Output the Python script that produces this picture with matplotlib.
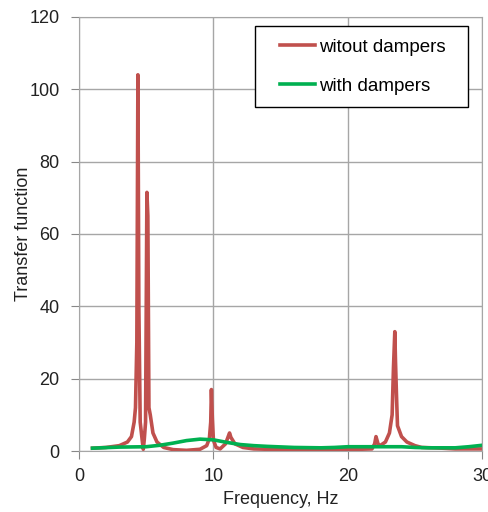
import numpy as np
import matplotlib.pyplot as plt
from matplotlib.lines import Line2D
from matplotlib.legend_handler import HandlerLine2D

plt.rcParams['font.family'] = ['Liberation Sans', 'DejaVu Sans']

# red curve: without dampers
freq_no = [1.0, 2.0, 3.0, 3.6, 3.9, 4.1, 4.2, 4.3, 4.38, 4.45, 4.55, 4.7, 4.78, 4.85,
           4.95, 5.05, 5.12, 5.2, 5.3, 5.5, 5.8, 6.3, 7.0, 8.0, 9.0, 9.5, 9.7, 9.8,
           9.85, 9.92, 10.0, 10.2, 10.5, 10.9, 11.1, 11.2, 11.3, 11.6, 12.2, 13.0,
           15.0, 18.0, 20.0, 21.8, 22.0, 22.1, 22.25, 22.4, 22.8, 23.1, 23.3, 23.4,
           23.5, 23.55, 23.62, 23.7, 24.0, 24.4, 25.0, 25.5, 27.0, 28.0, 30.0]
val_no = [0.8, 1.0, 1.5, 2.5, 4.0, 8.0, 12.0, 30.0, 104.0, 40.0, 8.0, 3.0, 0.5, 3.0,
          8.0, 71.5, 65.0, 12.0, 10.0, 5.0, 2.5, 1.0, 0.4, 0.2, 0.5, 1.5, 3.5, 8.0,
          17.0, 9.0, 3.0, 1.0, 0.6, 2.0, 4.0, 5.0, 3.8, 2.0, 1.0, 0.6,
          0.4, 0.3, 0.4, 0.6, 2.0, 4.0, 2.0, 1.5, 2.5, 5.0, 10.0, 23.0,
          33.0, 25.0, 16.0, 7.0, 4.0, 2.5, 1.5, 1.0, 0.8, 0.6, 0.6]

# green curve: with dampers
freq_d = [1.0, 3.0, 5.0, 6.0, 7.0, 8.0, 9.0, 10.0, 11.0, 12.0, 13.0, 14.0, 16.0,
          18.0, 19.0, 20.0, 22.0, 24.0, 25.0, 26.0, 28.0, 29.0, 30.0]
val_d = [0.8, 1.1, 1.2, 1.6, 2.2, 2.9, 3.3, 3.1, 2.4, 1.8, 1.5, 1.3, 1.0,
         0.9, 1.0, 1.2, 1.2, 1.2, 1.0, 0.9, 0.9, 1.2, 1.6]

fs = 13

fig = plt.figure(figsize=(4.88, 5.12), dpi=100)
ax = fig.add_axes([0.162, 0.119, 0.826, 0.848])

ax.plot(freq_no, val_no, color='#C0504D', lw=2.6, label='witout dampers  ',
        solid_joinstyle='round')
ax.plot(freq_d, val_d, color='#00B050', lw=2.6, label='with dampers')

ax.set_xlim(0, 30)
ax.set_ylim(0, 120)
ax.set_xticks([0, 10, 20, 30])
ax.set_yticks(np.arange(0, 121, 20))
ax.grid(True, color='#A6A6A6', lw=1)
ax.set_axisbelow(True)
for s in ax.spines.values():
    s.set_color('#A6A6A6')
ax.tick_params(direction='out', length=6, color='#888888', labelsize=fs,
               labelcolor='#222222')
ax.tick_params(axis='y', pad=8)
ax.tick_params(axis='x', pad=6)
ax.set_xlabel('Frequency, Hz', fontsize=fs, color='#222222')
ax.set_ylabel('Transfer function', fontsize=fs, color='#222222')
ax.xaxis.set_label_coords(0.5, -0.091)
ax.yaxis.set_label_coords(-0.117, 0.5)

leg = ax.legend(loc='upper right', bbox_to_anchor=(0.965, 0.979), fontsize=13.5,
                fancybox=False, framealpha=1, edgecolor='black',
                handlelength=2.54, handletextpad=0.2, labelspacing=1.18,
                borderpad=0.66, borderaxespad=0,
                handler_map={Line2D: HandlerLine2D(xpad=0.67)})
leg.get_frame().set_linewidth(1)

fig.savefig('out.png', dpi=100)
